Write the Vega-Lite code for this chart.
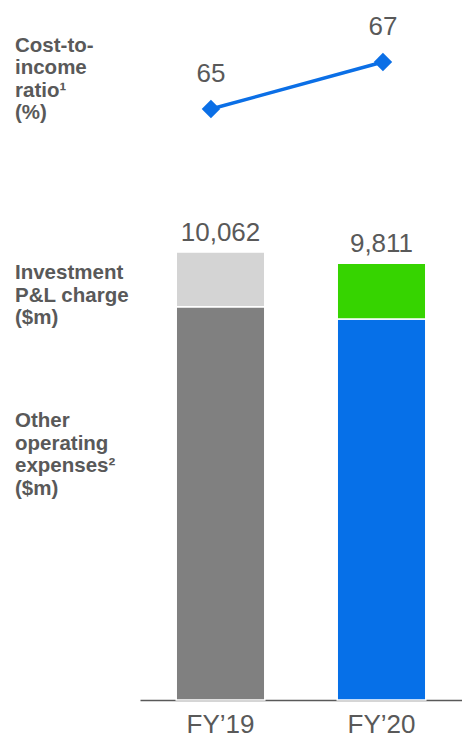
{
  "$schema": "https://vega.github.io/schema/vega-lite/v6.json",
  "padding": {"left": 15, "top": 0, "right": 0, "bottom": 0},
  "background": "white",
  "spacing": 0,
  "config": {"view": {"stroke": null}, "font": "Liberation Sans"},
  "datasets": {
    "labels": [
      {"label": ["Cost-to-", "income", "ratio¹", "(%)"], "pos": 14690},
      {"label": ["Investment", "P&L charge", "($m)"], "pos": 9590},
      {"label": ["Other", "operating", "expenses²", "($m)"], "pos": 6266}
    ],
    "costs": [
      {"year": "FY’19", "segment": "Other operating expenses", "part": "FY’19 other", "value": 8830},
      {"year": "FY’19", "segment": "Investment P&L charge", "part": "FY’19 investment", "value": 1232},
      {"year": "FY’20", "segment": "Other operating expenses", "part": "FY’20 other", "value": 8560},
      {"year": "FY’20", "segment": "Investment P&L charge", "part": "FY’20 investment", "value": 1251}
    ],
    "totals": [
      {"year": "FY’19", "total": 10062},
      {"year": "FY’20", "total": 9811}
    ],
    "ratio": [
      {"year": "FY’19", "ratio": 65},
      {"year": "FY’20", "ratio": 67}
    ]
  },
  "hconcat": [
    {
      "width": 125,
      "height": 700,
      "data": {"name": "labels"},
      "mark": {"type": "text", "align": "left", "baseline": "middle", "fontSize": 20.5, "fontWeight": "bold", "color": "#595959", "lineHeight": 22.5},
      "encoding": {
        "x": {"value": 0},
        "y": {"field": "pos", "type": "quantitative", "scale": {"domain": [0, 15722], "nice": false, "zero": true}, "axis": null},
        "text": {"field": "label", "type": "nominal"}
      }
    },
    {
      "width": 322,
      "height": 700,
      "layer": [
        {
          "layer": [
            {
              "data": {"name": "costs"},
              "mark": {"type": "bar", "width": {"band": 0.55}, "stroke": "white", "strokeWidth": 1.5},
              "encoding": {
                "x": {
                  "field": "year", "type": "nominal",
                  "scale": {"paddingInner": 0, "paddingOuter": 0},
                  "axis": {"title": null, "labelAngle": 0, "labelFontSize": 26, "labelColor": "#595959", "ticks": false, "domainColor": "#595959", "domainWidth": 1.5, "labelPadding": 11, "labelFont": "Liberation Sans"}
                },
                "y": {"field": "value", "type": "quantitative", "stack": "zero", "scale": {"domain": [0, 15722], "nice": false}, "axis": null},
                "color": {
                  "field": "part", "type": "nominal",
                  "scale": {"domain": ["FY’19 other", "FY’19 investment", "FY’20 other", "FY’20 investment"], "range": ["#808080", "#d4d4d4", "#0670e8", "#36d400"]},
                  "legend": null
                },
                "order": {"field": "segment", "sort": "descending"}
              }
            },
            {
              "data": {"name": "totals"},
              "mark": {"type": "text", "baseline": "alphabetic", "dy": -11, "fontSize": 26, "color": "#595959"},
              "encoding": {
                "x": {"field": "year", "type": "nominal"},
                "y": {"field": "total", "type": "quantitative"},
                "text": {"field": "total", "type": "quantitative", "format": ","}
              }
            }
          ]
        },
        {
          "data": {"name": "ratio"},
          "encoding": {
            "x": {"field": "year", "type": "nominal", "scale": {"type": "point", "padding": 0.436, "align": 0.473}, "axis": null},
            "y": {"field": "ratio", "type": "quantitative", "scale": {"domain": [39.85, 69.64], "nice": false, "zero": false}, "axis": null}
          },
          "layer": [
            {"mark": {"type": "line", "color": "#0b6fe6", "strokeWidth": 3.5}},
            {"mark": {"type": "point", "shape": "diamond", "size": 340, "filled": true, "opacity": 1, "color": "#0b6fe6"}},
            {"mark": {"type": "text", "baseline": "alphabetic", "dy": -27, "fontSize": 26, "color": "#595959"}, "encoding": {"text": {"field": "ratio", "type": "quantitative"}}}
          ]
        }
      ],
      "resolve": {"scale": {"x": "independent", "y": "independent"}}
    }
  ]
}
